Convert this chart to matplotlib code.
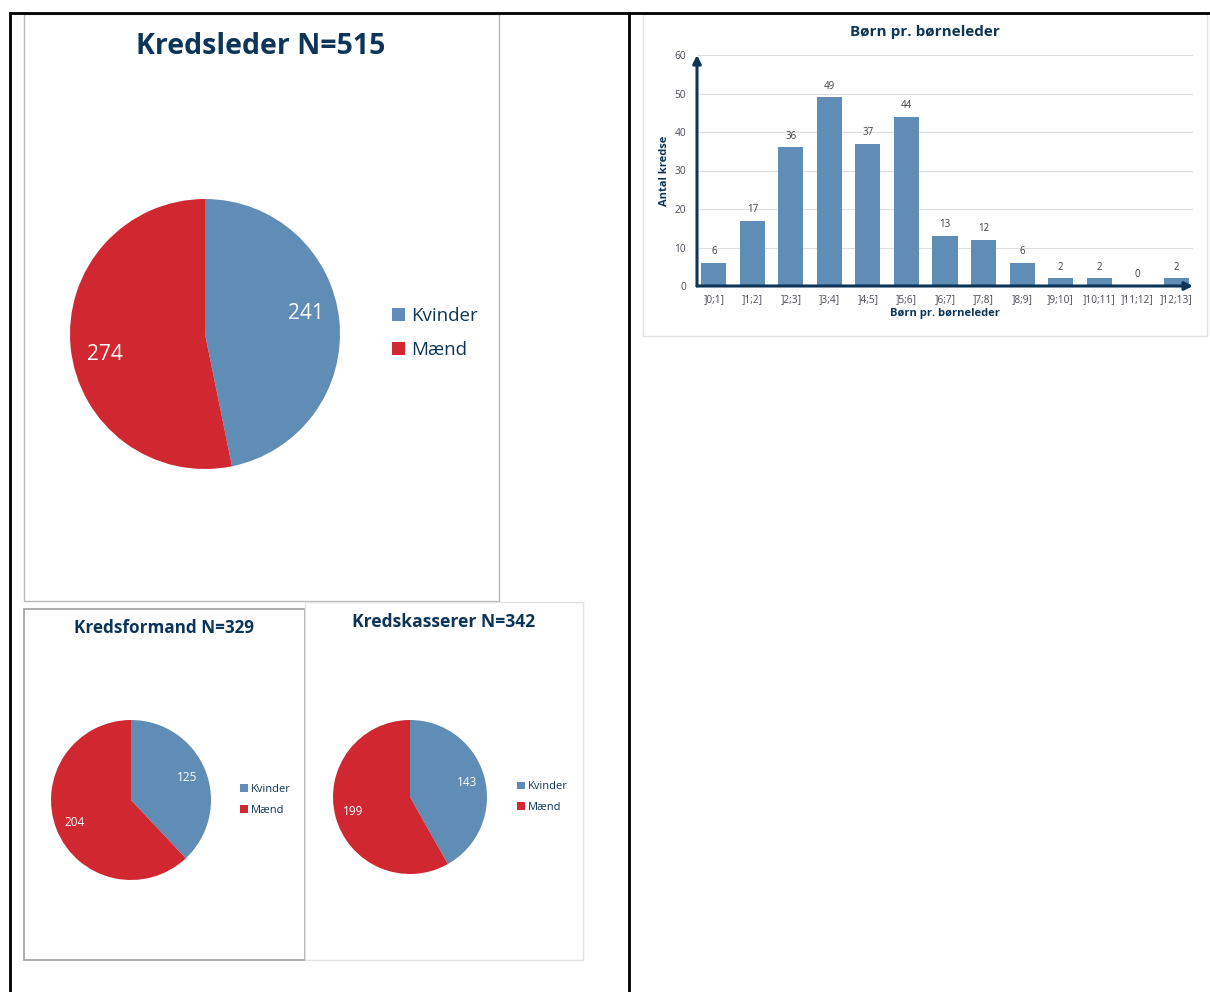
import numpy as np
import matplotlib
matplotlib.use("Agg")
import matplotlib.pyplot as plt
from matplotlib.patches import Rectangle
from matplotlib.lines import Line2D

plt.rcParams['font.family'] = ['Open Sans', 'DejaVu Sans']

# data
roles = ["Kredsleder", "Kredsformand", "Kredskasserer"]
totals = [515, 329, 342]
kvinder = [241, 125, 143]
maend = [274, 204, 199]
gender_labels = ["Kvinder", "Mænd"]

bar_cats = ["]0;1]", "]1;2]", "]2;3]", "]3;4]", "]4;5]", "]5;6]", "]6;7]",
            "]7;8]", "]8;9]", "]9;10]", "]10;11]", "]11;12]", "]12;13]"]
bar_counts = [6, 17, 36, 49, 37, 44, 13, 12, 6, 2, 2, 0, 2]

BLUE = "#5f8db5"
RED = "#d12731"
NAVY = "#0c3557"
W, H = 1210, 992

fig = plt.figure(figsize=(W / 100, H / 100), dpi=100)


def fx(px):
    return px / W


def fy(py):
    return 1 - py / H


def add_box(x0, y0, x1, y1, color, lw=1.0):
    fig.add_artist(Rectangle((fx(x0), fy(y1)), (x1 - x0) / W, (y1 - y0) / H,
                             transform=fig.transFigure, fill=False,
                             edgecolor=color, lw=lw))


def add_line(x0, y0, x1, y1, color="black", lw=2.0):
    fig.add_artist(Line2D([fx(x0), fx(x1)], [fy(y0), fy(y1)],
                          transform=fig.transFigure, color=color, lw=lw))


# outer table lines
add_line(10, 13, 1210, 13)
add_line(10, 13, 10, 992)
add_line(629, 13, 629, 992)

# panel borders
add_box(24, 14, 499, 601, "#b8b8b8", 1.0)
add_box(24, 609, 305, 960, "#a0a0a0", 1.2)
add_box(305, 602, 583, 960, "#e2e2e2", 1.0)
add_box(643, 14, 1207, 336, "#e2e2e2", 1.0)

# (center x, center y, radius, title x, title y, title size, label size,
#  label rotation deg, legend x, legend y, legend size)
pie_cfg = [
    (205, 334, 135, 261, 47, 20.5, 15, 6, 392, 333, 13.5),
    (131, 800, 80, 164, 628, 12.3, 8.5, 0, 240, 800, 8),
    (410, 797, 77, 444, 622, 12.6, 8.5, 0, 517, 797, 8),
]

for i, role in enumerate(roles):
    cx, cy, r, tx, ty, tsize, lsize, rot, lx, ly, legsize = pie_cfg[i]
    ax = fig.add_axes([fx(cx - r), fy(cy + r), 2 * r / W, 2 * r / H])
    vals = [kvinder[i], maend[i]]
    wedges, _, autotexts = ax.pie(
        vals, colors=[BLUE, RED], startangle=90, counterclock=False,
        autopct=lambda p, v=vals: f"{round(p * sum(v) / 100):d}",
        pctdistance=0.76, textprops=dict(color="white", fontsize=lsize),
        wedgeprops=dict(linewidth=0))
    if rot:
        a = np.deg2rad(rot)
        for t in autotexts:
            x, y = t.get_position()
            t.set_position((x * np.cos(a) - y * np.sin(a),
                            x * np.sin(a) + y * np.cos(a)))
    ax.set_xlim(-1.0, 1.0)
    ax.set_ylim(-1.0, 1.0)
    fig.text(fx(tx), fy(ty), f"{role} N={totals[i]}", ha="center",
             va="center", fontsize=tsize, fontweight="bold", color=NAVY)
    fig.legend(wedges, gender_labels, loc="center left",
               bbox_to_anchor=(fx(lx), fy(ly)), frameon=False,
               fontsize=legsize, labelcolor=NAVY, handlelength=0.7,
               handleheight=0.7, handletextpad=0.3, labelspacing=0.85,
               borderaxespad=0, borderpad=0)

# bar chart
bx = fig.add_axes([fx(697), fy(286), (1193 - 697) / W, (286 - 55) / H])
pos = list(range(len(bar_cats)))
bx.bar(pos, bar_counts, width=0.65, color=BLUE, zorder=2)
for p, v in zip(pos, bar_counts):
    bx.text(p, v + 1.5, str(v), ha="center", va="bottom", fontsize=7,
            color="#404040")
bx.set_xlim(-0.44, 12.44)
bx.set_ylim(0, 60)
bx.set_yticks(range(0, 61, 10))
bx.set_xticks(pos)
bx.set_xticklabels(bar_cats)
bx.tick_params(axis="both", length=0, labelsize=7.3, labelcolor="#4a4a5a")
bx.tick_params(axis="y", pad=8)
bx.tick_params(axis="x", pad=6)
bx.grid(axis="y", color="#dedede", lw=0.8, zorder=0)
for s in bx.spines.values():
    s.set_visible(False)
bx.annotate("", xy=(1.0, 0), xytext=(0, 0), xycoords="axes fraction",
            arrowprops=dict(arrowstyle="-|>", color=NAVY, lw=2.2,
                            shrinkA=0, shrinkB=0, mutation_scale=12))
bx.annotate("", xy=(0, 1.0), xytext=(0, 0), xycoords="axes fraction",
            arrowprops=dict(arrowstyle="-|>", color=NAVY, lw=2.2,
                            shrinkA=0, shrinkB=0, mutation_scale=12))
bx.set_xlabel("Børn pr. børneleder", fontsize=8, fontweight="bold",
              color=NAVY, labelpad=2)
bx.set_ylabel("Antal kredse", fontsize=8, fontweight="bold", color=NAVY,
              labelpad=3)
fig.text(fx(925), fy(32), "Børn pr. børneleder", ha="center", va="center",
         fontsize=11, fontweight="bold", color=NAVY)

fig.savefig("out.png", dpi=100, facecolor="white")
